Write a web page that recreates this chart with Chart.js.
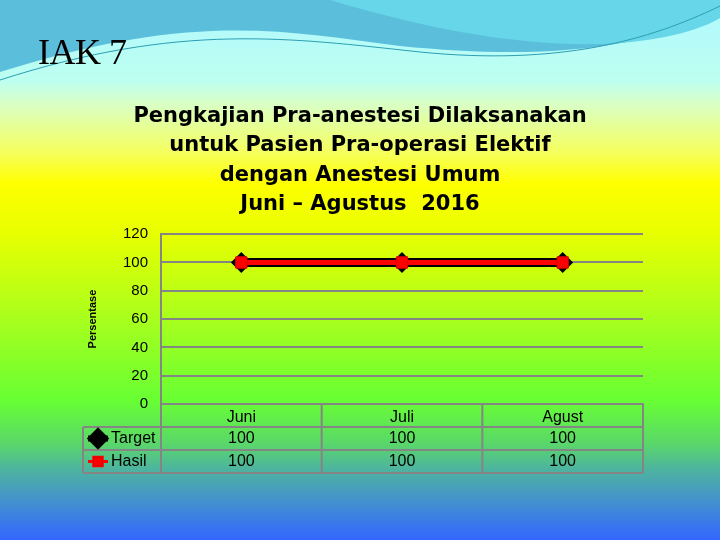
<!DOCTYPE html>
<html>
<head>
<meta charset="utf-8">
<script src="https://cdn.jsdelivr.net/npm/chart.js@4.4.1/dist/chart.umd.min.js"></script>
<style>
html, body { margin: 0; padding: 0; }
body { width: 720px; height: 540px; overflow: hidden; position: relative; }
#plot { position: absolute; left: 0; top: 0; }
#heading { position: absolute; left: 38px; top: 34px; z-index: 2; font-family: 'Liberation Serif', serif; font-size: 36px; line-height: 36px; color: #000; letter-spacing: -0.5px; }
</style>
</head>
<body>
<div id="heading">IAK 7</div>
<canvas id="plot" width="720" height="540"></canvas>
<script>
// chart values
var months = ['Juni', 'Juli', 'Agust'];
var target = [100, 100, 100];
var hasil = [100, 100, 100];
var titleLines = ['Pengkajian Pra-anestesi Dilaksanakan', 'untuk Pasien Pra-operasi Elektif', 'dengan Anestesi Umum', 'Juni \u2013 Agustus  2016'];
var yMin = 0, yMax = 120, yStep = 20;

var gridGray = '#858585';
var rowH = 23;

// slide background, painted before the chart
var slideBackground = {
    id: 'slideBackground',
    beforeDraw: function (chart) {
        var c = chart.ctx, w = chart.width, h = chart.height;
        c.save();
        var g = c.createLinearGradient(0, 0, 0, h);
        g.addColorStop(0, '#b0f8ff');
        g.addColorStop(0.15, '#bdfff0');
        g.addColorStop(0.19, '#d8ffc8');
        g.addColorStop(0.28, '#f5ff60');
        g.addColorStop(0.34, '#ffff00');
        g.addColorStop(0.43, '#e8ff00');
        g.addColorStop(0.56, '#b5ff18');
        g.addColorStop(0.74, '#68ff33');
        g.addColorStop(0.82, '#5ad868');
        g.addColorStop(0.87, '#4db3a0');
        g.addColorStop(0.93, '#4390d0');
        g.addColorStop(1, '#3366ff');
        c.fillStyle = g;
        c.fillRect(0, 0, w, h);

        // wave at the top
        c.beginPath();
        c.moveTo(0, 0);
        c.lineTo(720, 0);
        c.lineTo(720, 12);
        c.bezierCurveTo(640, 50, 540, 60, 400, 46);
        c.bezierCurveTo(280, 30, 190, 12, 0, 72);
        c.closePath();
        c.fillStyle = '#5bbfdc';
        c.fill();

        c.beginPath();
        c.moveTo(330, 0);
        c.bezierCurveTo(430, 30, 520, 46, 600, 44);
        c.bezierCurveTo(660, 42, 700, 30, 720, 18);
        c.lineTo(720, 0);
        c.closePath();
        c.fillStyle = '#66d6e8';
        c.fill();

        c.strokeStyle = '#2a9fb3';
        c.lineWidth = 1;
        c.beginPath();
        c.moveTo(0, 80);
        c.bezierCurveTo(180, 22, 290, 38, 420, 52);
        c.bezierCurveTo(560, 66, 650, 40, 720, 6);
        c.stroke();
        c.restore();
    }
};

// data table under the plot, with legend keys in the first column
var dataTable = {
    id: 'dataTable',
    afterDraw: function (chart) {
        var c = chart.ctx;
        var area = chart.chartArea;
        var xs = chart.scales.x;
        var top = area.bottom;
        var n = months.length;
        var colW = (area.right - area.left) / n;
        var keyLeft = 83;
        c.save();
        c.strokeStyle = gridGray;
        c.lineWidth = 2;
        c.beginPath();
        for (var r = 0; r <= 3; r++) {
            var yy = top + r * rowH;
            c.moveTo(r === 0 ? area.left : keyLeft, yy);
            c.lineTo(area.right, yy);
        }
        for (var i = 0; i <= n; i++) {
            var xx = area.left + i * colW;
            c.moveTo(xx, top);
            c.lineTo(xx, top + 3 * rowH);
        }
        c.moveTo(keyLeft, top + rowH);
        c.lineTo(keyLeft, top + 3 * rowH);
        c.stroke();

        c.fillStyle = '#000';
        c.font = '16px "Liberation Sans", Arial, sans-serif';
        c.textAlign = 'center';
        c.textBaseline = 'middle';
        var rows = [target, hasil];
        rows.forEach(function (vals, r) {
            vals.forEach(function (v, i) {
                c.fillText(String(v), xs.getPixelForValue(i), top + rowH * (r + 1.5));
            });
        });

        chart.data.datasets.forEach(function (ds, r) {
            var cy = top + rowH * (r + 1.5);
            c.strokeStyle = ds.borderColor;
            c.lineWidth = r === 0 ? 6 : 3;
            c.beginPath();
            c.moveTo(88, cy);
            c.lineTo(108, cy);
            c.stroke();
            Chart.helpers.drawPoint(c, {
                pointStyle: ds.pointStyle,
                radius: r === 0 ? 7 : 6,
                borderWidth: 1,
                rotation: 0
            }, 98, cy);
            c.fillStyle = ds.pointBackgroundColor;
            c.strokeStyle = ds.pointBorderColor;
            c.lineWidth = 1;
            c.fill();
            c.stroke();
            c.fillStyle = '#000';
            c.font = '16px "Liberation Sans", Arial, sans-serif';
            c.textAlign = 'left';
            c.fillText(ds.label, 111, cy);
        });
        c.restore();
    }
};

var ctx = document.getElementById('plot').getContext('2d');
var chart = new Chart(ctx, {
    type: 'line',
    data: {
        labels: months,
        datasets: [{
            label: 'Target',
            data: target,
            order: 1,
            borderColor: '#000000',
            borderWidth: 9,
            pointStyle: 'rectRot',
            pointRadius: 9,
            pointBorderWidth: 2,
            pointBackgroundColor: '#000000',
            pointBorderColor: '#000000'
        }, {
            label: 'Hasil',
            data: hasil,
            order: 0,
            borderColor: '#ff0000',
            borderWidth: 5,
            pointStyle: 'rect',
            pointRadius: 8,
            pointBorderWidth: 1,
            pointBackgroundColor: '#ff0000',
            pointBorderColor: '#dd0000'
        }]
    },
    options: {
        responsive: false,
        animation: false,
        devicePixelRatio: 1,
        layout: { padding: { left: 0, right: 0, top: 0, bottom: 113 } },
        plugins: {
            legend: { display: false },
            tooltip: { enabled: false },
            title: {
                display: true,
                text: titleLines,
                color: '#000',
                font: { family: '"DejaVu Sans", sans-serif', size: 21, weight: 'bold', lineHeight: 1.395 },
                padding: { top: 102, bottom: 15 }
            }
        },
        scales: {
            x: {
                offset: true,
                grid: { display: false, drawTicks: false },
                border: { display: true, color: gridGray, width: 2 },
                ticks: {
                    color: '#000',
                    padding: 4,
                    font: { family: '"Liberation Sans", Arial, sans-serif', size: 16 }
                },
                afterFit: function (scale) { scale.height = rowH; }
            },
            y: {
                min: yMin,
                max: yMax,
                grid: { color: gridGray, lineWidth: 2, drawTicks: false },
                border: { display: true, color: gridGray, width: 2 },
                ticks: {
                    stepSize: yStep,
                    color: '#000',
                    padding: 13,
                    font: { family: '"Liberation Sans", Arial, sans-serif', size: 15 }
                },
                title: {
                    display: true,
                    text: 'Persentase',
                    color: '#000',
                    font: { family: '"Liberation Sans", Arial, sans-serif', size: 11, weight: 'bold' },
                    padding: { top: 86, bottom: 0 }
                },
                afterFit: function (scale) { scale.width = 161; }
            },
            // empty right-hand margin so the title centres on the slide
            yRight: {
                position: 'right',
                display: true,
                grid: { display: false, drawTicks: false },
                border: { display: false },
                ticks: { display: false },
                afterFit: function (scale) { scale.width = 77; }
            }
        }
    },
    plugins: [slideBackground, dataTable]
});
</script>
</body>
</html>
